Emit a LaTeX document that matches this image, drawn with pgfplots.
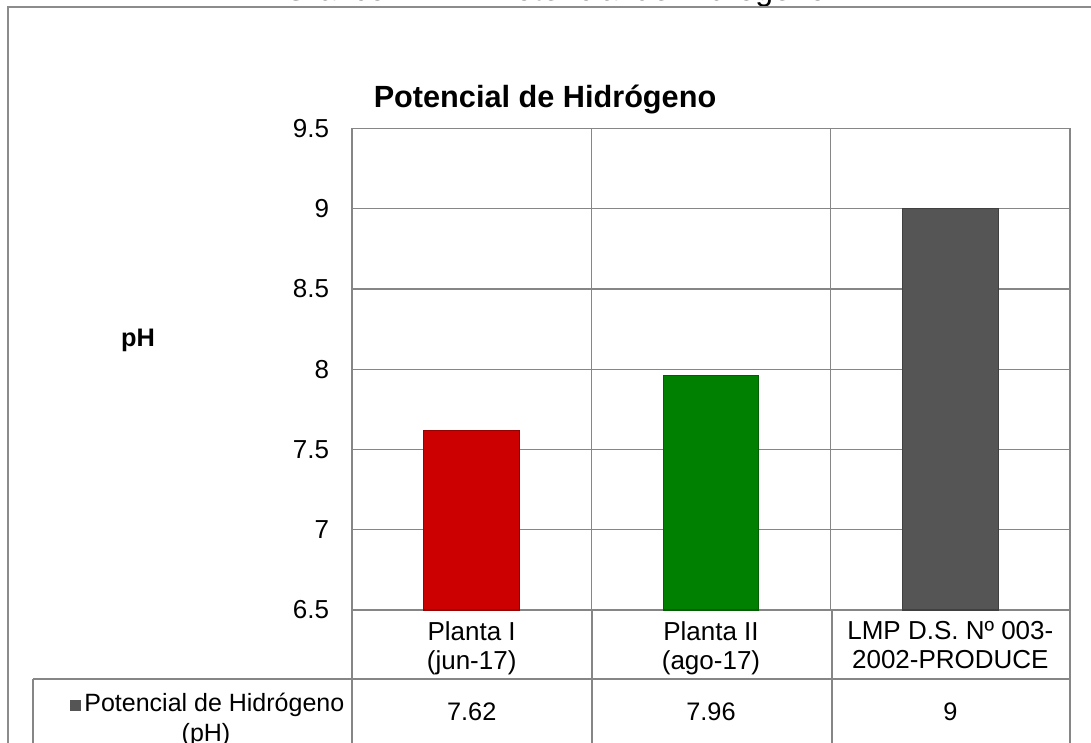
\documentclass[border=0pt]{standalone}
\usepackage{pgfplots}
\pgfplotsset{compat=1.18}
\usepackage{fontspec}
\setmainfont{Liberation Sans}

\definecolor{gridgray}{RGB}{134,134,134}
\definecolor{framegray}{RGB}{140,140,140}
\definecolor{barred}{RGB}{204,0,0}
\definecolor{bargreen}{RGB}{0,128,0}
\definecolor{bargray}{RGB}{85,85,85}

\begin{document}
\begin{tikzpicture}
% page = 1091 x 742 px, 1px = 0.75pt
\useasboundingbox (0,0) rectangle (818.25pt,-556.5pt);
\begin{scope}
\clip (0,0) rectangle (818.25pt,-556.5pt);
\begin{scope}[x=0.75pt,y=-0.75pt]
  % caption above the frame, cut by the page edge
  \node[anchor=base, font=\fontsize{24}{28}\selectfont] at (555,1)
    {Gráfico N° 11: Potencial de Hidrógeno};
  \draw[framegray, line width=1.5pt] (7.5,7.5) rectangle (1200,900);
  \node[anchor=base, font=\bfseries\fontsize{23}{27}\selectfont] at (545,108)
    {Potencial de Hidrógeno};
  \node[font=\bfseries\fontsize{19}{22}\selectfont] at (138,340) {pH};

  % data table under the axis
  \draw[gridgray, line width=1pt] (33,679) -- (1070,679);
  \draw[gridgray, line width=1pt] (33,679) -- (33,760);
  \foreach \xx in {352,592,832,1070}
    \draw[gridgray, line width=1pt] (\xx,610) -- (\xx,760);
  \node[anchor=base, font=\fontsize{18.75}{21}\selectfont] at (207,711)
    {\textcolor{bargray}{\rule{8.5pt}{8.5pt}}\hspace{2.5pt}Potencial de Hidrógeno};
  \node[anchor=base, font=\fontsize{18.75}{21}\selectfont] at (206,741) {(pH)};
  \foreach \xx/\vv in {471.7/7.62, 711/7.96, 950.3/9}
    \node[font=\fontsize{19}{21}\selectfont] at (\xx,712) {\vv};
\end{scope}

\begin{axis}[
  at={(264pt,-457.5pt)}, anchor=south west,
  scale only axis, width=538.5pt, height=361.125pt,
  ybar, bar width=0.4, bar shift=0pt,
  xmin=-0.5, xmax=2.5, ymin=6.5, ymax=9.5,
  ytick={6.5,7,7.5,8,8.5,9,9.5},
  xtick={0,1,2},
  xticklabels={{Planta I\\(jun-17)},{Planta II\\(ago-17)},{LMP D.S. Nº 003-\\2002-PRODUCE}},
  minor xtick={0.5,1.5},
  xminorgrids=true, ymajorgrids=true,
  major tick length=0pt, minor tick length=0pt,
  axis line style={gridgray, line width=1pt},
  grid style={gridgray, line width=1pt},
  minor grid style={gridgray, line width=1pt},
  /pgf/number format/assume math mode=true,
  tick label style={font=\fontsize{19.5}{22}\selectfont},
  yticklabel style={anchor=east, inner sep=0pt, xshift=-17pt},
  xticklabel style={anchor=north, inner sep=0pt, yshift=-8.25pt, align=center},
]
\addplot[fill=barred, draw=barred!75!black, line width=0.8pt] coordinates {(0,7.62)};
\addplot[fill=bargreen, draw=bargreen!75!black, line width=0.8pt] coordinates {(1,7.96)};
\addplot[fill=bargray, draw=bargray!75!black, line width=0.8pt] coordinates {(2,9)};
\end{axis}
\end{scope}
\end{tikzpicture}
\end{document}
